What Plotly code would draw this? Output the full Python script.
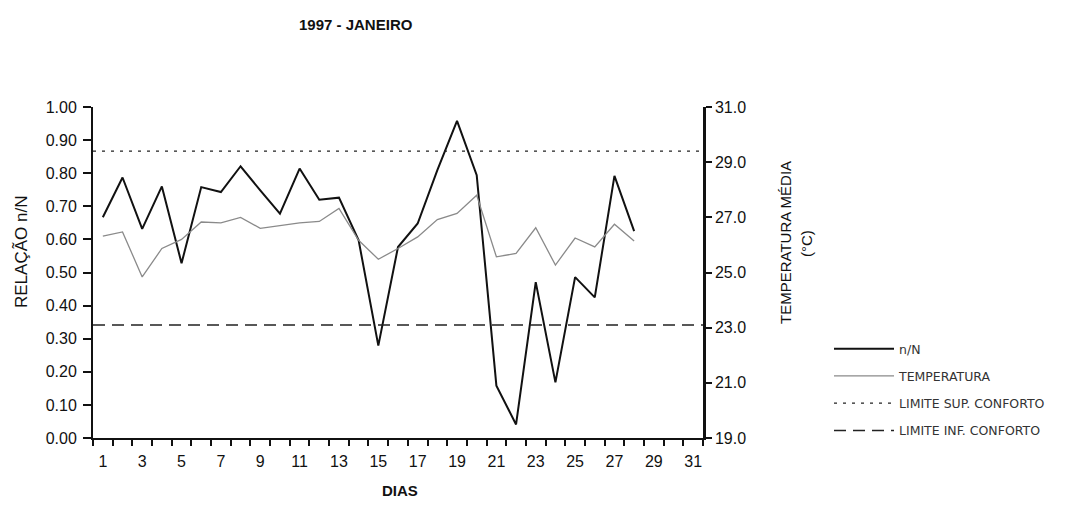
import plotly.graph_objects as go

DAYS = list(range(1, 29))
NN = [0.667, 0.787, 0.632, 0.760, 0.528, 0.758, 0.743, 0.821, 0.748, 0.678,
      0.814, 0.720, 0.726, 0.597, 0.279, 0.577, 0.648, 0.809, 0.958, 0.794,
      0.158, 0.041, 0.471, 0.168, 0.486, 0.425, 0.792, 0.625]
TEMP = [26.32, 26.47, 24.84, 25.87, 26.20, 26.83, 26.80, 27.00, 26.60, 26.69,
        26.80, 26.85, 27.32, 26.17, 25.48, 25.87, 26.29, 26.92, 27.14, 27.80,
        25.57, 25.69, 26.62, 25.27, 26.25, 25.93, 26.75, 26.14]
LIM_DAYS = [0.5, 31.5]
LIM_SUP = [29.4, 29.4]
LIM_INF = [23.1, 23.1]
X_LABELS = list(range(1, 32, 2))
Y_LEFT = [round(i * 0.1, 2) for i in range(11)]
Y_RIGHT = list(range(19, 32, 2))

FONT = "Liberation Sans, Arial, sans-serif"

# page body has an 8px margin; targets below are window pixels
OFF = 8
W, H = 1092 - OFF, 508 - OFF
PL, PR, PT, PB = 93, 703, 107, 438


def px_x(px):
    return (px - PL) / (PR - PL)


def px_y(py):
    return (PB - py) / (PB - PT)


fig = go.Figure()
fig.add_trace(go.Scatter(x=DAYS, y=NN, mode="lines", name="n/N",
                         line=dict(color="#111111", width=2), legendgroup="a"))
fig.add_trace(go.Scatter(x=DAYS, y=TEMP, mode="lines", name="TEMPERATURA",
                         line=dict(color="#8a8a8a", width=1.3), yaxis="y2", legendgroup="b"))
fig.add_trace(go.Scatter(x=LIM_DAYS, y=LIM_SUP, mode="lines", name="LIMITE SUP. CONFORTO",
                         line=dict(color="#222222", width=1.2, dash="3px,6px"), yaxis="y2", legendgroup="c"))
fig.add_trace(go.Scatter(x=LIM_DAYS, y=LIM_INF, mode="lines", name="LIMITE INF. CONFORTO",
                         line=dict(color="#222222", width=1.5, dash="12px,7px"), yaxis="y2", legendgroup="d"))

annotations = [
    dict(text="<b>1997 - JANEIRO</b>", x=px_x(356), y=px_y(24), xref="paper", yref="paper",
         showarrow=False, xanchor="center", yanchor="middle", font=dict(size=15)),
    dict(text="RELAÇÃO n/N", x=px_x(21), y=px_y(252), xref="paper", yref="paper",
         showarrow=False, xanchor="center", yanchor="middle", textangle=-90, font=dict(size=17)),
    dict(text="TEMPERATURA MÉDIA", x=px_x(785), y=px_y(243), xref="paper", yref="paper",
         showarrow=False, xanchor="center", yanchor="middle", textangle=-90, font=dict(size=15)),
    dict(text="(°C)", x=px_x(806), y=px_y(243), xref="paper", yref="paper",
         showarrow=False, xanchor="center", yanchor="middle", textangle=-90, font=dict(size=15)),
    dict(text="<b>DIAS</b>", x=px_x(400), y=px_y(490), xref="paper", yref="paper",
         showarrow=False, xanchor="center", yanchor="middle", font=dict(size=15)),
]

fig.update_layout(
    width=W, height=H,
    margin=dict(l=PL - OFF, r=1092 - PR, t=PT - OFF, b=508 - PB, autoexpand=False),
    paper_bgcolor="white", plot_bgcolor="white",
    font=dict(family=FONT, color="#111111", size=16),
    showlegend=True,
    annotations=annotations,
    legend=dict(x=px_x(829), y=px_y(334), xanchor="left", yanchor="top",
                font=dict(size=12.5, color="#333333", family="DejaVu Sans, sans-serif"),
                tracegroupgap=8, bgcolor="rgba(0,0,0,0)", itemwidth=60),
    xaxis=dict(range=[0.5, 31.5], tickvals=X_LABELS, ticktext=[str(v) for v in X_LABELS],
               ticks="", showgrid=False, zeroline=False, ticklabelstandoff=8,
               showline=True, linecolor="#111111", linewidth=2,
               minor=dict(ticks="outside", tick0=0.5, dtick=1, ticklen=6, tickcolor="#111111",
                          tickwidth=2, showgrid=False),
               tickfont=dict(size=16)),
    yaxis=dict(range=[0, 1.0], tickvals=Y_LEFT, tickformat=".2f",
               ticks="outside", ticklen=8, tickwidth=2, tickcolor="#111111", ticklabelstandoff=3,
               showgrid=False, zeroline=False, showline=True, linecolor="#111111", linewidth=2,
               tickfont=dict(size=16)),
    yaxis2=dict(range=[19, 31], tickvals=Y_RIGHT, tickformat=".1f", overlaying="y", side="right",
                ticks="outside", ticklen=6, tickwidth=2, tickcolor="#111111",
                showgrid=False, zeroline=False, showline=True, linecolor="#111111", linewidth=2.5,
                tickfont=dict(size=16)),
)

fig.write_html("out.html")
